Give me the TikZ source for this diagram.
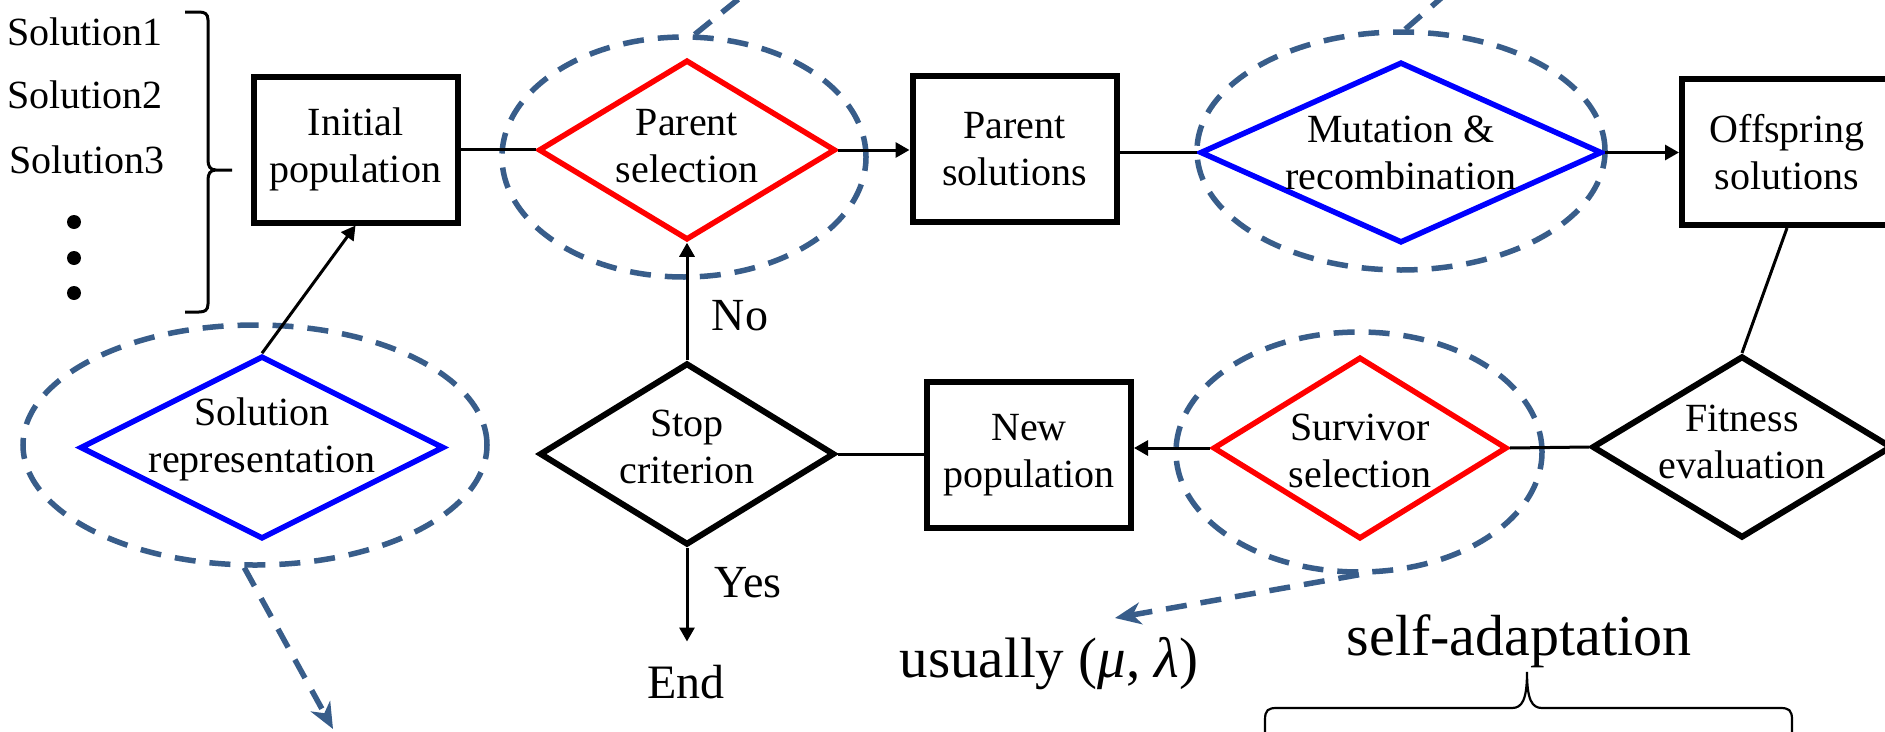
\documentclass[tikz,border=0pt]{standalone}
\usepackage{fontspec}
\setmainfont{Liberation Serif}
\usetikzlibrary{shapes.geometric, arrows.meta, calc}
\definecolor{hilite}{RGB}{56,93,138}

\begin{document}
\begin{tikzpicture}[x=1pt, y=-1pt,
  box/.style={draw, rectangle, line width=6pt, minimum width=204pt, minimum height=146pt,
              inner sep=0pt, align=center, font=\fontsize{40}{47}\selectfont},
  dia/.style={draw, diamond, line width=6pt, inner sep=0pt},
  reddia/.style={dia, draw=red, line width=5.5pt},
  bluedia/.style={dia, draw=blue, line width=5.5pt},
  lbl/.style={inner sep=0pt, align=center, font=\fontsize{40}{47}\selectfont},
  ring/.style={draw=hilite, ellipse, line width=5.5pt, dash pattern=on 21pt off 14pt, inner sep=0pt},
  conn/.style={line width=3pt},
  arr/.style={conn, -{Triangle[length=14pt, width=15pt]}},
  hint/.style={draw=hilite, line width=5.5pt, dash pattern=on 21pt off 14pt},
  hintarr/.style={hint, -{Stealth[length=26pt, width=22pt, inset=8pt]}},
  dot/.style={circle, fill, inner sep=0pt, minimum size=14pt},
  side/.style={inner sep=0pt, anchor=base},
]
\useasboundingbox (0,0) rectangle (1885,731);
\fill[white] (0,0) rectangle (1885,731);
\clip (0,0) rectangle (1885,731);

% dashed rings around the operators
\node[ring, minimum width=364pt, minimum height=240pt] (psE)   at (684,157)  {};
\node[ring, minimum width=408pt, minimum height=238pt] (mutE)  at (1401,151) {};
\node[ring, minimum width=464pt, minimum height=240pt] (repE)  at (255,445)  {};
\node[ring, minimum width=366pt, minimum height=240pt] (survE) at (1359,452) {};

% list of candidate solutions
\node[lbl, anchor=base] (s1) at (85,45)  {Solution1};
\node[lbl, anchor=base] (s2) at (85,108) {Solution2};
\node[lbl, anchor=base] (s3) at (87,173) {Solution3};
\node[dot] (d1) at (74,222) {};
\node[dot] (d2) at (74,258) {};
\node[dot] (d3) at (74,293) {};
\draw[line width=3pt]
  (185,12) -- (199,12) .. controls (205,12) and (208,14) .. (208,20) -- (208,160)
  .. controls (208,166) and (210,170) .. (216,170) -- (232,170)
  (216,170) .. controls (210,170) and (208,174) .. (208,180) -- (208,304)
  .. controls (208,310) and (205,312) .. (199,312) -- (185,312);

% population boxes
\node[box] (init)   at (355.5,149.5) {Initial\\population};
\node[box] (parsol) at (1014.5,149)  {Parent\\solutions};
\node[box, minimum width=210pt] (off) at (1787,152) {Offspring\\solutions};
\node[box] (newpop) at (1029,455)    {New\\population};

% operators
\node[reddia, minimum width=297pt, minimum height=180pt] (ps) at (687,150) {};
\node[lbl] at ($(ps)+(0,-4)$) {Parent\\selection};
\node[bluedia, minimum width=402pt, minimum height=181pt] (mut) at (1401,152.5) {};
\node[lbl] at (mut) {Mutation \&\\recombination};
\node[bluedia, minimum width=364pt, minimum height=183pt] (rep) at (262,447.5) {};
\node[lbl] at ($(rep)+(0,-8)$) {Solution\\representation};
\node[dia, minimum width=295pt, minimum height=182pt] (stop) at (687,454) {};
\node[lbl] at ($(stop)+(0,-7)$) {Stop\\criterion};
\node[reddia, minimum width=294pt, minimum height=182pt] (surv) at (1360,448) {};
\node[lbl] at ($(surv)+(0,3)$) {Survivor\\selection};
\node[dia, minimum width=300pt, minimum height=182pt] (fit) at (1742,447) {};
\node[lbl] at ($(fit)+(0,-5)$) {Fitness\\evaluation};

% side labels
\node[side, font=\fontsize{46}{50}\selectfont] (no)  at (740,330) {No};
\node[side, font=\fontsize{46}{50}\selectfont] (yes) at (748,597) {Yes};
\node[side, font=\fontsize{48}{52}\selectfont] (end) at (686,698) {End};
\node[side, font=\fontsize{57}{60}\selectfont] (usual) at (1049,677) {usually (\textit{μ}, \textit{λ})};
\node[side, font=\fontsize{58}{60}\selectfont] (selfad) at (1519,655) {self-adaptation};

% main cycle
\draw[conn] (init.east) -- (init.east -| ps.west);
\draw[arr]  (ps.east) -- (ps.east -| parsol.west);
\draw[conn] (mut.west -| parsol.east) -- (mut.west);
\draw[arr]  (mut.east) -- (mut.east -| off.west);
\draw[conn] (off.south) -- (fit.north);
\draw[conn] (fit.west) -- (surv.east);
\draw[arr]  (surv.west) -- (surv.west -| newpop.east);
\draw[conn] (stop.east) -- (stop.east -| newpop.west);
\draw[arr]  (stop.north) -- (ps.south);
\draw[arr, shorten >=23pt] (stop.south) -- (stop.south |- end.north);
\draw[arr]  (rep.north) -- (init.south);

% dashed pointers
\coordinate (psUp)    at (762,-20);
\coordinate (mutUp)   at (1462,-20);
\coordinate (repTip)  at (333,729);
\coordinate (survTip) at (1115,618);
\draw[hint] (psE.85) -- (psUp);
\draw[hint] (mutE.88) -- (mutUp);
\draw[hintarr] (repE.265) -- (repTip);
\draw[hintarr] (survE.south) -- (survTip);

% brace under self-adaptation
\draw[line width=2.2pt]
  (1265,740) -- (1265,720) .. controls (1265,710) and (1268,708) .. (1277,708) -- (1512,708)
  .. controls (1522,708) and (1527,700) .. (1527,672)
  .. controls (1527,700) and (1532,708) .. (1542,708) -- (1780,708)
  .. controls (1789,708) and (1792,710) .. (1792,720) -- (1792,740);
\end{tikzpicture}
\end{document}
